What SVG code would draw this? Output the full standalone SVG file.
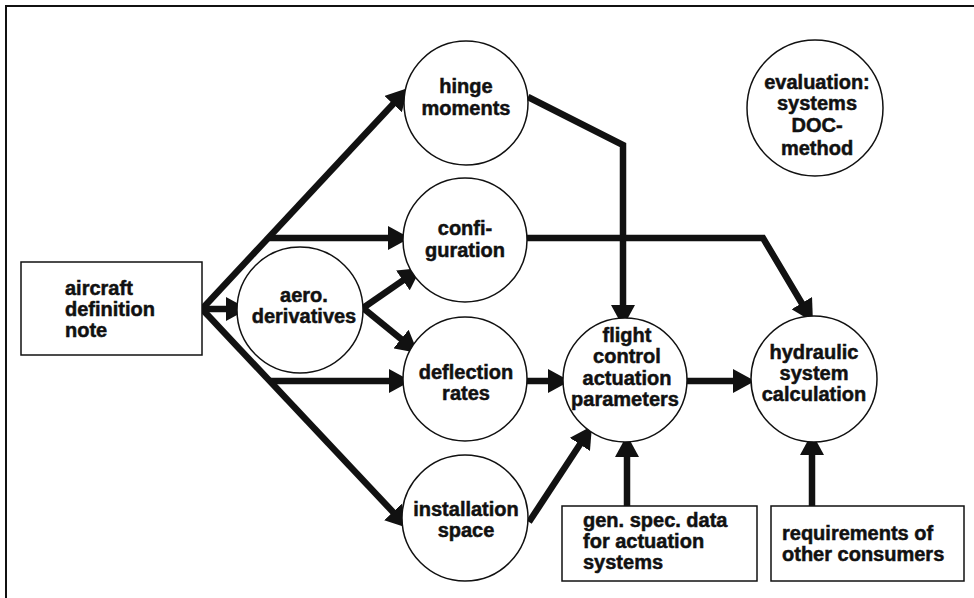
<svg xmlns="http://www.w3.org/2000/svg" width="974" height="598" viewBox="0 0 974 598">
<style>
.frame{fill:none;stroke:#111;stroke-width:2}
.node circle,.node rect{fill:#fff;stroke:#111;stroke-width:1.5}
.node text{font-family:"Liberation Sans",Arial,sans-serif;font-weight:bold;font-size:20px;fill:#111;stroke:#111;stroke-width:0.5}
.c text{text-anchor:middle}
.conn path{fill:none;stroke:#111;stroke-width:6.5;stroke-linejoin:miter}
.conn .a{marker-end:url(#ah)}
</style>
<defs>
<marker id="ah" markerUnits="userSpaceOnUse" markerWidth="23" markerHeight="24" refX="8" refY="12" orient="auto">
<path d="M0,0 L22,12 L0,24 z" fill="#111"/>
</marker>
</defs>
<rect width="974" height="598" fill="#fff"/>
<path class="frame" d="M6,598 V6 H974"/>

<g id="connectors" class="conn">
<path class="a" d="M202,309 L398.5,98.2"/>
<path class="a" d="M268,238 H396"/>
<path class="a" d="M202,309 H234"/>
<path class="a" d="M202,309 L398.4,517.8"/>
<path class="a" d="M269.7,381 H397"/>
<path class="a" d="M363,308 L409.5,275.9"/>
<path class="a" d="M363,308 L407.2,344.1"/>
<path class="a" d="M528,97 L623,145 V313"/>
<path class="a" d="M527,238 H763 L805.8,310"/>
<path class="a" d="M527,381 H556"/>
<path class="a" d="M529,522 L584.3,437.7"/>
<path class="a" d="M687,381 H741"/>
<path class="a" d="M627,506 V449"/>
<path class="a" d="M812,506 V447"/>
</g>

<g id="aircraft-definition-note" class="node">
<rect x="21" y="262" width="181" height="93"/>
<text x="65" y="295">aircraft</text>
<text x="65" y="316">definition</text>
<text x="65" y="337">note</text>
</g>

<g id="hinge-moments" class="node c">
<circle cx="466" cy="103" r="62"/>
<text x="466" y="93">hinge</text>
<text x="466" y="115">moments</text>
</g>

<g id="configuration" class="node c">
<circle cx="465" cy="240" r="62"/>
<text x="465" y="235">confi-</text>
<text x="465" y="257">guration</text>
</g>

<g id="aero-derivatives" class="node c">
<circle cx="300" cy="310" r="63"/>
<text x="304" y="302">aero.</text>
<text x="304" y="323">derivatives</text>
</g>

<g id="deflection-rates" class="node c">
<circle cx="465" cy="379" r="62"/>
<text x="466" y="379">deflection</text>
<text x="466" y="400">rates</text>
</g>

<g id="installation-space" class="node c">
<circle cx="465" cy="518" r="63"/>
<text x="466" y="516">installation</text>
<text x="466" y="537">space</text>
</g>

<g id="flight-control-actuation-parameters" class="node c">
<circle cx="625" cy="380" r="62"/>
<text x="627" y="342">flight</text>
<text x="627" y="363">control</text>
<text x="627" y="385">actuation</text>
<text x="625" y="406">parameters</text>
</g>

<g id="hydraulic-system-calculation" class="node c">
<circle cx="814" cy="379" r="63"/>
<text x="814" y="359">hydraulic</text>
<text x="814" y="380">system</text>
<text x="814" y="401">calculation</text>
</g>

<g id="evaluation-systems-doc-method" class="node c">
<circle cx="815" cy="108" r="68"/>
<text x="817" y="89">evaluation:</text>
<text x="817" y="110">systems</text>
<text x="817" y="132">DOC-</text>
<text x="817" y="155">method</text>
</g>

<g id="gen-spec-data" class="node">
<rect x="562" y="506" width="195" height="75"/>
<text x="583" y="527">gen. spec. data</text>
<text x="583" y="548">for actuation</text>
<text x="583" y="569">systems</text>
</g>

<g id="requirements-of-other-consumers" class="node">
<rect x="771" y="506" width="193" height="75"/>
<text x="782" y="540">requirements of</text>
<text x="782" y="561">other consumers</text>
</g>
</svg>
